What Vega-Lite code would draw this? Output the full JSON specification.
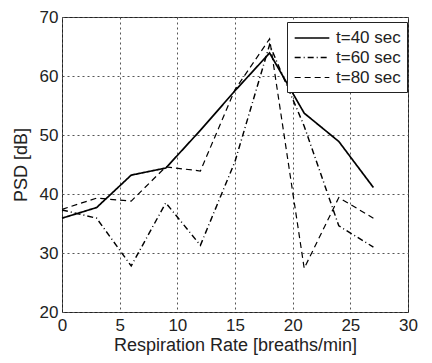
{
  "$schema": "https://vega.github.io/schema/vega-lite/v6.json",
  "width": 346,
  "height": 295,
  "autosize": {"type": "none"},
  "padding": {"left": 62, "top": 17, "right": 24, "bottom": 51},
  "background": "white",
  "config": {
    "view": {"stroke": "#222", "strokeWidth": 1},
    "font": "Liberation Sans",
    "axis": {
      "grid": true,
      "gridDash": [2, 3],
      "gridColor": "#555",
      "gridWidth": 1,
      "domain": false,
      "ticks": false,
      "labelFontSize": 17,
      "labelColor": "#222",
      "titleFontSize": 18,
      "titleFontWeight": "normal",
      "titleColor": "#222",
      "labelFlush": false
    }
  },
  "data": {
    "values": [
      {"series": "t=40 sec", "x": 0, "y": 35.9},
      {"series": "t=40 sec", "x": 3, "y": 37.7},
      {"series": "t=40 sec", "x": 6, "y": 43.2},
      {"series": "t=40 sec", "x": 9, "y": 44.4},
      {"series": "t=40 sec", "x": 12, "y": 50.8},
      {"series": "t=40 sec", "x": 15, "y": 57.5},
      {"series": "t=40 sec", "x": 18, "y": 63.9},
      {"series": "t=40 sec", "x": 21, "y": 53.7},
      {"series": "t=40 sec", "x": 24, "y": 48.9},
      {"series": "t=40 sec", "x": 27, "y": 41.1},
      {"series": "t=60 sec", "x": 0, "y": 37.3},
      {"series": "t=60 sec", "x": 3, "y": 35.9},
      {"series": "t=60 sec", "x": 6, "y": 27.8},
      {"series": "t=60 sec", "x": 9, "y": 38.5},
      {"series": "t=60 sec", "x": 12, "y": 31.3},
      {"series": "t=60 sec", "x": 15, "y": 45.5},
      {"series": "t=60 sec", "x": 18, "y": 65.3},
      {"series": "t=60 sec", "x": 21, "y": 51.5},
      {"series": "t=60 sec", "x": 24, "y": 34.6},
      {"series": "t=60 sec", "x": 27, "y": 31.0},
      {"series": "t=80 sec", "x": 0, "y": 37.4},
      {"series": "t=80 sec", "x": 3, "y": 39.3},
      {"series": "t=80 sec", "x": 6, "y": 38.8},
      {"series": "t=80 sec", "x": 9, "y": 44.6},
      {"series": "t=80 sec", "x": 12, "y": 43.9},
      {"series": "t=80 sec", "x": 15, "y": 57.7},
      {"series": "t=80 sec", "x": 18, "y": 66.3},
      {"series": "t=80 sec", "x": 21, "y": 27.4},
      {"series": "t=80 sec", "x": 24, "y": 39.4},
      {"series": "t=80 sec", "x": 27, "y": 35.9}
    ]
  },
  "mark": {"type": "line", "color": "black"},
  "encoding": {
    "x": {
      "field": "x",
      "type": "quantitative",
      "scale": {"domain": [0, 30], "nice": false, "zero": false},
      "axis": {
        "values": [0, 5, 10, 15, 20, 25, 30],
        "title": "Respiration Rate [breaths/min]",
        "labelPadding": 5,
        "titlePadding": 3
      }
    },
    "y": {
      "field": "y",
      "type": "quantitative",
      "scale": {"domain": [20, 70], "nice": false, "zero": false},
      "axis": {
        "values": [20, 30, 40, 50, 60, 70],
        "title": "PSD [dB]",
        "labelPadding": 4,
        "titlePadding": 9
      }
    },
    "strokeWidth": {
      "field": "series",
      "type": "nominal",
      "scale": {
        "domain": ["t=40 sec", "t=60 sec", "t=80 sec"],
        "range": [1.7, 1.2, 1.4]
      },
      "legend": null
    },
    "strokeDash": {
      "field": "series",
      "type": "nominal",
      "scale": {
        "domain": ["t=40 sec", "t=60 sec", "t=80 sec"],
        "range": [[1, 0], [6, 3, 1, 3], [6, 4]]
      },
      "legend": {
        "title": null,
        "orient": "none",
        "legendX": 225,
        "legendY": 5,
        "symbolType": "M-2,0H2",
        "symbolSize": 300,
        "symbolOffset": 9,
        "symbolStrokeColor": "black",
        "symbolStrokeWidth": 1.5,
        "labelFontSize": 17,
        "labelColor": "#222",
        "labelOffset": 14,
        "fillColor": "white",
        "strokeColor": "#222",
        "padding": 6,
        "rowPadding": 2
      }
    }
  }
}
